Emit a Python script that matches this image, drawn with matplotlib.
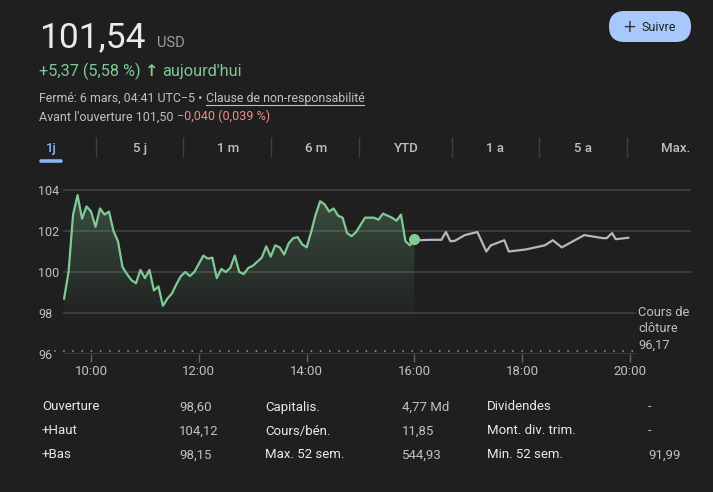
import numpy as np
import pandas as pd
import matplotlib
matplotlib.use("Agg")
import matplotlib.pyplot as plt
from matplotlib.patches import FancyBboxPatch
from matplotlib.colors import to_rgb

# ---- data ----
price = "101,54"
currency = "USD"
change = "+5,37 (5,58 %)"
change_when = "aujourd'hui"
closed_note = "Fermé: 6 mars, 04:41 UTC\u22125 \u2022 "
disclaimer = "Clause de non-responsabilité"
premarket = "Avant l'ouverture 101,50 "
premarket_change = "\u22120,040 (0,039 %)"

# regular session, one price every 5 min from 09:30 to 16:00
session_prices = [
    98.7, 100.0, 102.8, 103.75, 102.6, 103.2, 102.95, 102.2, 103.1, 102.8,
    102.95, 102.0, 101.5, 100.25, 99.9, 99.6, 99.45, 100.1, 99.7, 100.1,
    99.1, 99.3, 98.35, 98.7, 98.95, 99.4, 99.8, 100.0, 99.8, 100.0,
    100.4, 100.8, 100.65, 100.7, 99.7, 100.15, 100.0, 100.2, 100.8, 100.0,
    99.9, 100.2, 100.3, 100.5, 100.7, 101.25, 100.75, 101.3, 101.2, 100.85,
    101.4, 101.65, 101.7, 101.35, 101.2, 101.95, 102.8, 103.45, 103.3, 102.95,
    103.1, 102.75, 102.65, 101.9, 101.75, 101.95, 102.3, 102.65, 102.65, 102.65,
    102.55, 102.85, 102.75, 102.65, 102.5, 102.8, 101.5, 101.3, 101.6,
]

# after hours
after_times = ["16:00", "16:06", "16:17", "16:30", "16:35", "16:40", "16:45",
               "16:56", "17:10", "17:20", "17:25", "17:40", "17:45", "18:04",
               "18:25", "18:34", "18:44", "19:09", "19:30", "19:34", "19:40",
               "19:44", "19:58"]
after_prices = [101.6, 101.55, 101.57, 101.57, 101.95, 101.5, 101.52,
                101.8, 101.95, 101.0, 101.3, 101.55, 101.0, 101.1,
                101.3, 101.55, 101.2, 101.8, 101.65, 101.65, 101.9,
                101.6, 101.67]

prev_close = 96.17
prev_close_label = "Cours de\nclôture\n96,17"
y_ticks = [96, 98, 100, 102, 104]
x_ticks = [10, 12, 14, 16, 18, 20]
x_tick_labels = ["10:00", "12:00", "14:00", "16:00", "18:00", "20:00"]

tabs = ["1j", "5 j", "1 m", "6 m", "YTD", "1 a", "5 a", "Max."]

col1_labels = ["Ouverture", "+Haut", "+Bas"]
col1_values = ["98,60", "104,12", "98,15"]
col2_labels = ["Capitalis.", "Cours/bén.", "Max. 52 sem."]
col2_values = ["4,77 Md", "11,85", "544,93"]
col3_labels = ["Dividendes", "Mont. div. trim.", "Min. 52 sem."]
col3_values = ["-", "-", "91,99"]

# ---- style ----
BG = "#1f1f1f"
WHITE = "#e8eaed"
GREY = "#9aa0a6"
LIGHT = "#bdc1c6"
GREEN = "#81c995"
RED = "#f28b82"
BLUE = "#8ab4f8"
GRID = "#3c3c3c"
W, H = 713, 492

plt.rcParams['font.family'] = ['Roboto', 'DejaVu Sans']


def to_hours(s):
    hh, mm = s.split(":")
    return int(hh) + int(mm) / 60


session_idx = pd.date_range("2024-03-05 09:30", "2024-03-05 16:00", freq="5min")
session_t = np.array([t.hour + t.minute / 60 for t in session_idx])
after_t = np.array([to_hours(s) for s in after_times])

fig = plt.figure(figsize=(W / 100, H / 100), dpi=100)
fig.patch.set_facecolor(BG)

# ---- chart ----
ax = fig.add_axes([63 / W, 1 - 354 / H, (691 - 63) / W, (354 - 177.7) / H])
ax.set_facecolor("none")
for sp in ax.spines.values():
    sp.set_visible(False)

for v in y_ticks:
    ax.axhline(v, color=GRID, lw=1.4, zorder=0)
ax.axhline(prev_close, xmin=-0.014, xmax=0.914, color=GREY, lw=1.1,
           ls=(0, (1, 5)), clip_on=False, zorder=1)

fill_floor = 97.7
poly = ax.fill_between(session_t, session_prices, fill_floor, color="none", lw=0)
rgba = np.zeros((256, 1, 4))
rgba[..., :3] = to_rgb(GREEN)
rgba[..., 3] = np.linspace(0.02, 0.3, 256)[:, None]
im = ax.imshow(rgba, extent=[session_t[0], session_t[-1], fill_floor, 104.2],
               origin="lower", aspect="auto", zorder=1, interpolation="bilinear")
im.set_clip_path(poly.get_paths()[0], transform=ax.transData)

ax.plot(after_t, after_prices, color="#b4b8bc", lw=1.6, zorder=2)
ax.plot(session_t, session_prices, color=GREEN, lw=1.6, zorder=3)
ax.plot(session_t[-1], session_prices[-1], "o", ms=7, color=GREEN, zorder=4)

ax.set_xlim(9.48, 21.13)
ax.set_ylim(96, 104.6)
ax.set_yticks(y_ticks)
ax.set_yticklabels([str(v) for v in y_ticks])
ax.tick_params(axis="y", length=0, pad=18, labelsize=9, labelcolor=LIGHT)
for lbl in ax.get_yticklabels():
    lbl.set_horizontalalignment("left")
ax.set_xticks(x_ticks)
ax.set_xticklabels(x_tick_labels)
ax.tick_params(axis="x", length=6, width=1, color="#5f6368", pad=2,
               labelsize=9.5, labelcolor=LIGHT)

# ---- overlay in pixel coordinates ----
bg = fig.add_axes([0, 0, 1, 1], zorder=5)
bg.set_xlim(0, W)
bg.set_ylim(H, 0)
bg.axis("off")
renderer = fig.canvas.get_renderer()


def right_of(t):
    bb = t.get_window_extent(renderer)
    return bb.x1


bg.text(638, 329, prev_close_label, fontsize=9.3, color=LIGHT, va="center",
        ha="left", linespacing=1.35,
        bbox=dict(boxstyle="square,pad=0.15", fc=BG, ec="none"))

t = bg.text(39, 47, price, fontsize=25.5, color=WHITE, va="baseline")
bg.text(157, 47, currency, fontsize=10.5, color=GREY, va="baseline")

t = bg.text(39, 76, change, fontsize=11.7, color=GREEN, va="baseline")
x = right_of(t) + 4
t = bg.text(x, 76, "\u2191", fontsize=11.5, color=GREEN, va="baseline",
            family=["DejaVu Sans"], weight="bold")
x = right_of(t) + 4
bg.text(x, 76, change_when, fontsize=11.7, color=GREEN, va="baseline")

t = bg.text(39, 102, closed_note, fontsize=8.9, color=LIGHT, va="baseline")
x = right_of(t)
t = bg.text(x, 102, disclaimer, fontsize=8.9, color=LIGHT, va="baseline")
bg.plot([x, right_of(t)], [104.5, 104.5], color=LIGHT, lw=0.8)

t = bg.text(39, 120.5, premarket, fontsize=9.0, color=LIGHT, va="baseline")
bg.text(right_of(t), 120.5, premarket_change, fontsize=9.0, color=RED,
        va="baseline")

# follow button
btn = FancyBboxPatch((609, 11), 82, 31, boxstyle="round,pad=0,rounding_size=15.5",
                     fc="#a8c7fa", ec="none")
bg.add_patch(btn)
bg.text(629, 27, "+", fontsize=12, color="#303134", ha="center", va="center",
        family=["DejaVu Sans"])
bg.text(641, 27.5, "Suivre", fontsize=9, color="#1f1f1f", ha="left", va="center")

# range tabs
tab_centers = [51, 140, 228, 316, 406, 495, 583, 676]
separators = [96, 183, 271, 359, 452, 539, 627]
for i, (lab, cx) in enumerate(zip(tabs, tab_centers)):
    bg.text(cx, 148.5, lab, fontsize=9.5, color=BLUE if i == 0 else LIGHT,
            ha="center", va="center", weight="medium")
bg.vlines(separators, 137, 157, color="#3c4043", lw=1)
bg.plot([41, 61], [160.5, 160.5], color=BLUE, lw=2.6, solid_capstyle="round")

# key stats
row_y = [407, 431, 455]
cols = [(42, col1_labels, WHITE), (179, col1_values, LIGHT),
        (265, col2_labels, WHITE), (402, col2_values, LIGHT),
        (487, col3_labels, WHITE), (648, col3_values, LIGHT)]
for cx, texts, col in cols:
    for ry, s in zip(row_y, texts):
        bg.text(cx, ry, s, fontsize=9.5, color=col, ha="left", va="center")

fig.savefig("out.png", dpi=100, facecolor=BG)
